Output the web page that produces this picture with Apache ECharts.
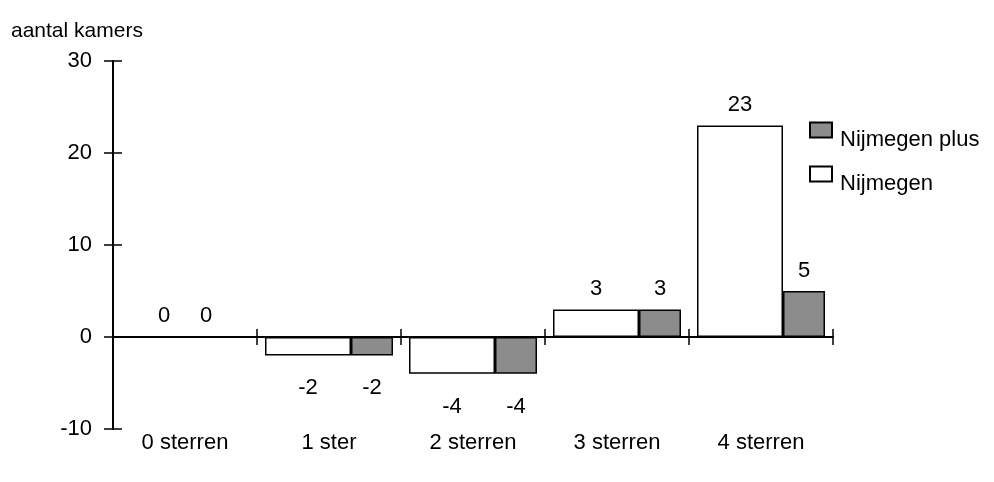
<!DOCTYPE html>
<html>
<head>
<meta charset="utf-8">
<script src="https://cdn.jsdelivr.net/npm/echarts@6/dist/echarts.min.js"></script>
<style>
html,body{margin:0;padding:0;background:#fff;}
#chart{width:994px;height:482px;}
</style>
</head>
<body>
<div id="chart"></div>
<script>
const categories = ['0 sterren', '1 ster', '2 sterren', '3 sterren', '4 sterren'];
const nijmegen = [0, -2, -4, 3, 23];
const nijmegenPlus = [0, -2, -4, 3, 5];
const yMin = -10, yMax = 30, yStep = 10;
const yTitle = 'aantal kamers';

const FONT = 'Liberation Sans, Arial, sans-serif';
const chart = echarts.init(document.getElementById('chart'), null, {renderer: 'canvas'});

function items(vals, zeroShift) {
  return vals.map(function (v) {
    const lbl = v < 0
      ? {position: 'bottom', distance: 22}
      : {position: 'top', distance: 9};
    if (v === 0 && zeroShift) lbl.offset = [zeroShift, 0];
    return {value: v, label: lbl};
  });
}

const labelStyle = {show: true, color: '#000', fontFamily: FONT, fontSize: 22};

const xBase = {
  type: 'category', data: categories, gridIndex: 0, position: 'bottom'
};

chart.setOption({
  animation: false,
  backgroundColor: '#fff',
  textStyle: {fontFamily: FONT},
  title: {
    text: yTitle, left: 6, top: 16,
    textStyle: {fontFamily: FONT, fontSize: 21, fontWeight: 'normal', color: '#000'}
  },
  grid: {left: 113, right: 161, top: 61, bottom: 53, containLabel: false},
  legend: {
    orient: 'vertical', left: 809, top: 109, itemWidth: 22, itemHeight: 15, itemGap: 2,
    icon: 'rect', padding: 0,
    data: ['Nijmegen plus', 'Nijmegen'],
    formatter: '{a|{name}}',
    textStyle: {
      fontFamily: FONT, fontSize: 22, color: '#000',
      rich: {a: {fontFamily: FONT, fontSize: 22, color: '#000', lineHeight: 26, padding: [20, 0, 0, 3]}}
    }
  },
  xAxis: [
    Object.assign({}, xBase, {
      axisLine: {show: true, onZero: true, lineStyle: {color: '#000', width: 2}},
      axisTick: {show: true, inside: false, length: 8, lineStyle: {color: '#000', width: 1.5}},
      axisLabel: {show: false}, splitLine: {show: false}
    }),
    Object.assign({}, xBase, {
      axisLine: {show: false, onZero: true},
      axisTick: {show: true, inside: true, length: 8, lineStyle: {color: '#000', width: 1.5}},
      axisLabel: {show: false}, splitLine: {show: false}
    }),
    Object.assign({}, xBase, {
      axisLine: {show: false, onZero: false},
      axisTick: {show: false},
      axisLabel: {show: true, margin: 3, color: '#000', fontFamily: FONT, fontSize: 22},
      splitLine: {show: false}
    })
  ],
  yAxis: [
    {
      type: 'value', min: yMin, max: yMax, interval: yStep, position: 'left',
      axisLine: {show: true, lineStyle: {color: '#000', width: 2}},
      axisTick: {show: true, inside: false, length: 9, lineStyle: {color: '#000', width: 1.5}},
      axisLabel: {show: true, margin: 21, color: '#000', fontFamily: FONT, fontSize: 22},
      splitLine: {show: false}
    },
    {
      type: 'value', min: yMin, max: yMax, interval: yStep, position: 'left',
      axisLine: {show: false},
      axisTick: {show: true, inside: true, length: 9, lineStyle: {color: '#000', width: 1.5}},
      axisLabel: {show: false},
      splitLine: {show: false}
    }
  ],
  series: [
    {
      name: 'Nijmegen', type: 'bar', xAxisIndex: 0, yAxisIndex: 0,
      barWidth: 86, barGap: '0%',
      itemStyle: {color: '#ffffff', borderColor: '#000', borderWidth: 1.5},
      label: labelStyle,
      data: items(nijmegen, 0)
    },
    {
      name: 'Nijmegen plus', type: 'bar', xAxisIndex: 0, yAxisIndex: 0,
      barWidth: 42, barGap: '0%',
      itemStyle: {color: '#8c8c8c', borderColor: '#000', borderWidth: 1.5},
      label: labelStyle,
      data: items(nijmegenPlus, -22)
    }
  ]
});
</script>
</body>
</html>
